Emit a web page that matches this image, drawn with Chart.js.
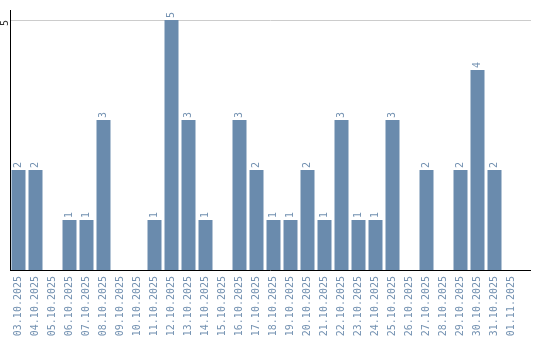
<!DOCTYPE html>
<html>
<head>
<meta charset="utf-8">
<script src="https://cdn.jsdelivr.net/npm/chart.js@4/dist/chart.umd.min.js"></script>
<style>
  html, body { margin: 0; padding: 0; background: #fff; }
  #wrap { width: 540px; height: 340px; }
</style>
</head>
<body>
<div id="wrap"><canvas id="chart" width="540" height="340"></canvas></div>
<script>
const days = ["03.10.2025","04.10.2025","05.10.2025","06.10.2025","07.10.2025","08.10.2025",
  "09.10.2025","10.10.2025","11.10.2025","12.10.2025","13.10.2025","14.10.2025","15.10.2025",
  "16.10.2025","17.10.2025","18.10.2025","19.10.2025","20.10.2025","21.10.2025","22.10.2025",
  "23.10.2025","24.10.2025","25.10.2025","26.10.2025","27.10.2025","28.10.2025","29.10.2025",
  "30.10.2025","31.10.2025","01.11.2025"];
const counts = [2,2,0,1,1,3,0,0,1,5,3,1,0,3,2,1,1,2,1,3,1,1,3,0,2,0,2,4,2,0];
const yTicks = [5];

const barColor = "#6a8bad";
const textColor = "#7391b1";
const monoFont = "'DejaVu Sans Mono', monospace";
const axisEnd = 531;

// grid line under the bars, axis lines + rotated value labels over them
const extras = {
  id: "extras",
  beforeDatasetsDraw(chart){
    const {ctx, chartArea} = chart;
    const y = chart.scales.y;
    ctx.save();
    ctx.strokeStyle = "#cccccc";
    ctx.lineWidth = 1;
    ctx.beginPath();
    yTicks.forEach(t => {
      const py = Math.round(y.getPixelForValue(t)) + 0.5;
      ctx.moveTo(chartArea.left, py);
      ctx.lineTo(axisEnd, py);
    });
    ctx.stroke();
    ctx.restore();
  },
  afterDatasetsDraw(chart){
    const {ctx, chartArea} = chart;
    const y = chart.scales.y;
    ctx.save();
    ctx.strokeStyle = "#000";
    ctx.lineWidth = 1;
    ctx.beginPath();
    ctx.moveTo(chartArea.left + 0.5, 10);
    ctx.lineTo(chartArea.left + 0.5, chartArea.bottom);
    ctx.moveTo(chartArea.left, chartArea.bottom + 0.5);
    ctx.lineTo(axisEnd, chartArea.bottom + 0.5);
    ctx.stroke();

    ctx.font = "10px " + monoFont;
    ctx.fillStyle = "#333";
    ctx.textAlign = "center";
    ctx.textBaseline = "middle";
    yTicks.forEach(t => {
      ctx.save();
      ctx.translate(5, y.getPixelForValue(t) + 3);
      ctx.rotate(-Math.PI / 2);
      ctx.fillText(String(t), 0, 0);
      ctx.restore();
    });

    ctx.fillStyle = textColor;
    ctx.textAlign = "left";
    chart.getDatasetMeta(0).data.forEach((bar, i) => {
      if (!counts[i]) return;
      ctx.save();
      ctx.translate(bar.x, bar.y - 2);
      ctx.rotate(-Math.PI / 2);
      ctx.fillText(String(counts[i]), 0, 0);
      ctx.restore();
    });
    ctx.restore();
  }
};

new Chart(document.getElementById("chart"), {
  type: "bar",
  data: {
    labels: days,
    datasets: [{
      data: counts,
      backgroundColor: barColor,
      borderWidth: 0,
      barPercentage: 14 / 17,
      categoryPercentage: 1
    }]
  },
  options: {
    responsive: false,
    animation: false,
    layout: { padding: { top: 20, right: 20, left: 0, bottom: 0 } },
    plugins: { legend: { display: false }, tooltip: { enabled: false } },
    scales: {
      x: {
        afterFit: s => { s.height = 70; },
        grid: { display: false, drawTicks: false },
        border: { display: false },
        ticks: {
          minRotation: 90, maxRotation: 90, autoSkip: false,
          padding: 6,
          color: textColor,
          font: { family: monoFont, size: 10 }
        }
      },
      y: {
        min: 0, max: 5,
        afterFit: s => { s.width = 10; },
        grid: { display: false },
        border: { display: false },
        ticks: { display: false }
      }
    }
  },
  plugins: [extras]
});
</script>
</body>
</html>
